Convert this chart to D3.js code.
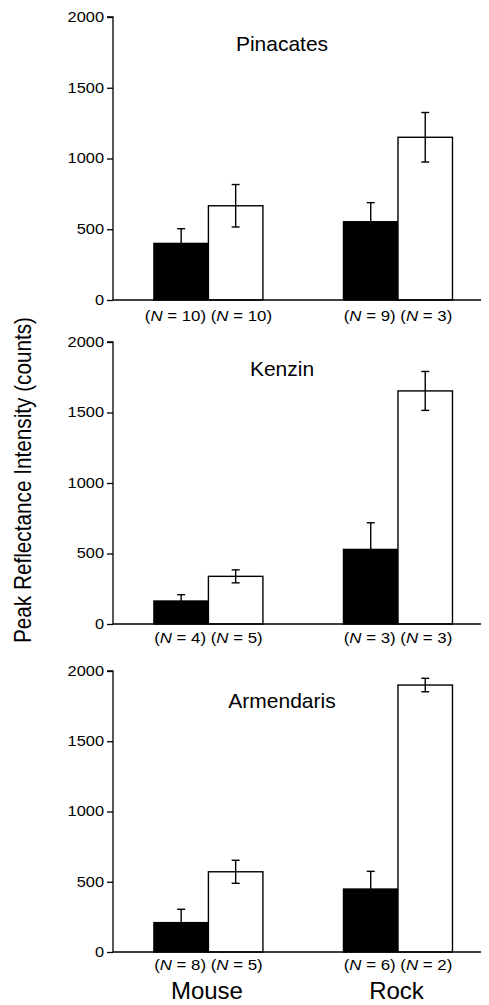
<!DOCTYPE html>
<html>
<head>
<meta charset="utf-8">
<script src="https://cdn.jsdelivr.net/npm/d3@7"></script>
<style>
  html, body { margin: 0; padding: 0; background: #fff; }
  svg { display: block; font-family: "Liberation Sans", Arial, Helvetica, sans-serif; }
</style>
</head>
<body>
<svg id="chart" width="489" height="1005"></svg>
<script>
// ---- data ----
const sites = ["Pinacates", "Kenzin", "Armendaris"];
const groups = ["Mouse", "Rock"];
const series = ["dark", "light"];
const darkMeans  = [[400, 553], [163, 529], [209, 448]];
const darkSE     = [[104, 135], [45, 189], [95, 126]];
const lightMeans = [[666, 1150], [338, 1653], [571, 1900]];
const lightSE    = [[150, 175], [46, 138], [82, 48]];
const darkN  = [[10, 9], [4, 3], [8, 6]];
const lightN = [[10, 3], [5, 3], [5, 2]];
const yTicks = [0, 500, 1000, 1500, 2000];
const yLabel = "Peak Reflectance Intensity (counts)";

// ---- layout ----
const axisX = 113, axisRight = 481;
const panels = [
  { bottom: 300, top: 17,  titleY: 50.7,  nY: 321 },
  { bottom: 624, top: 342, titleY: 375.7, nY: 642.5 },
  { bottom: 952, top: 671, titleY: 708.3, nY: 970 }
];
const titleX = 282;
const wide = 1.17;

const svg = d3.select("#chart");

const x = d3.scaleBand().domain(groups).range([116, 490.4])
  .paddingInner(0.425).paddingOuter(0.2);
const xs = d3.scaleBand().domain(series).range([0, x.bandwidth()]);

panels.forEach((p, i) => {
  const y = d3.scaleLinear().domain([0, 2000]).range([p.bottom, p.top]);
  const g = svg.append("g");

  // bars
  const rows = groups.map((grp, j) => ([
    { grp, s: "dark",  m: darkMeans[i][j],  se: darkSE[i][j] },
    { grp, s: "light", m: lightMeans[i][j], se: lightSE[i][j] }
  ])).flat();

  g.selectAll("rect.bar").data(rows).join("rect")
    .attr("class", "bar")
    .attr("x", d => x(d.grp) + xs(d.s))
    .attr("y", d => y(d.m))
    .attr("width", xs.bandwidth())
    .attr("height", d => y(0) - y(d.m))
    .attr("fill", d => d.s === "dark" ? "#000" : "#fff")
    .attr("stroke", "#000")
    .attr("stroke-width", 1.4);

  // error bars
  const eb = g.selectAll("g.eb").data(rows).join("g").attr("class", "eb")
    .attr("stroke", "#000").attr("stroke-width", 1.4);
  const cx = d => x(d.grp) + xs(d.s) + xs.bandwidth() / 2;
  eb.append("line")
    .attr("x1", cx).attr("x2", cx)
    .attr("y1", d => y(d.m - d.se)).attr("y2", d => y(d.m + d.se));
  eb.append("line")
    .attr("x1", d => cx(d) - 4).attr("x2", d => cx(d) + 4)
    .attr("y1", d => y(d.m + d.se)).attr("y2", d => y(d.m + d.se));
  eb.append("line")
    .attr("x1", d => cx(d) - 4).attr("x2", d => cx(d) + 4)
    .attr("y1", d => y(d.m - d.se)).attr("y2", d => y(d.m - d.se));

  // y axis
  const ya = g.append("g").attr("transform", `translate(${axisX},0)`)
    .call(d3.axisLeft(y).tickValues(yTicks).tickSize(6).tickPadding(2).tickFormat(d3.format("d")));
  ya.select(".domain").attr("stroke-width", 1.3).attr("d", `M-6,${y(2000)}H0V${y(0)}`);
  ya.selectAll(".tick line").attr("stroke-width", 1.3);
  ya.selectAll(".tick text")
    .attr("font-size", 14)
    .attr("font-family", "Liberation Sans, Arial, sans-serif")
    .attr("fill", "#000")
    .attr("x", -9 / wide)
    .attr("transform", `scale(${wide},1)`);

  // x axis baseline
  g.append("line")
    .attr("x1", axisX).attr("x2", axisRight)
    .attr("y1", y(0)).attr("y2", y(0))
    .attr("stroke", "#000").attr("stroke-width", 1.3);

  // title
  g.append("text")
    .attr("x", titleX).attr("y", p.titleY)
    .attr("text-anchor", "middle")
    .attr("font-size", 21)
    .text(sites[i]);

  // N labels
  groups.forEach((grp, j) => {
    const t = g.append("text")
      .attr("text-anchor", "middle")
      .attr("font-size", 14.4)
      .attr("transform", `translate(${x(grp) + x.bandwidth() / 2},${p.nY}) scale(${wide},1)`);
    t.append("tspan").text("(");
    t.append("tspan").attr("font-style", "italic").text("N");
    t.append("tspan").text(` = ${darkN[i][j]}) (`);
    t.append("tspan").attr("font-style", "italic").text("N");
    t.append("tspan").text(` = ${lightN[i][j]})`);
  });
});

// group labels
svg.selectAll("text.grp").data(groups).join("text")
  .attr("class", "grp")
  .attr("x", d => x(d) + x.bandwidth() / 2 - 1.5)
  .attr("y", 999)
  .attr("text-anchor", "middle")
  .attr("font-size", 24)
  .text(d => d);

// y label
svg.append("text")
  .attr("transform", "translate(30.7,480) rotate(-90)")
  .attr("text-anchor", "middle")
  .attr("font-size", 24)
  .attr("textLength", 326)
  .attr("lengthAdjust", "spacingAndGlyphs")
  .text(yLabel);
</script>
</body>
</html>
